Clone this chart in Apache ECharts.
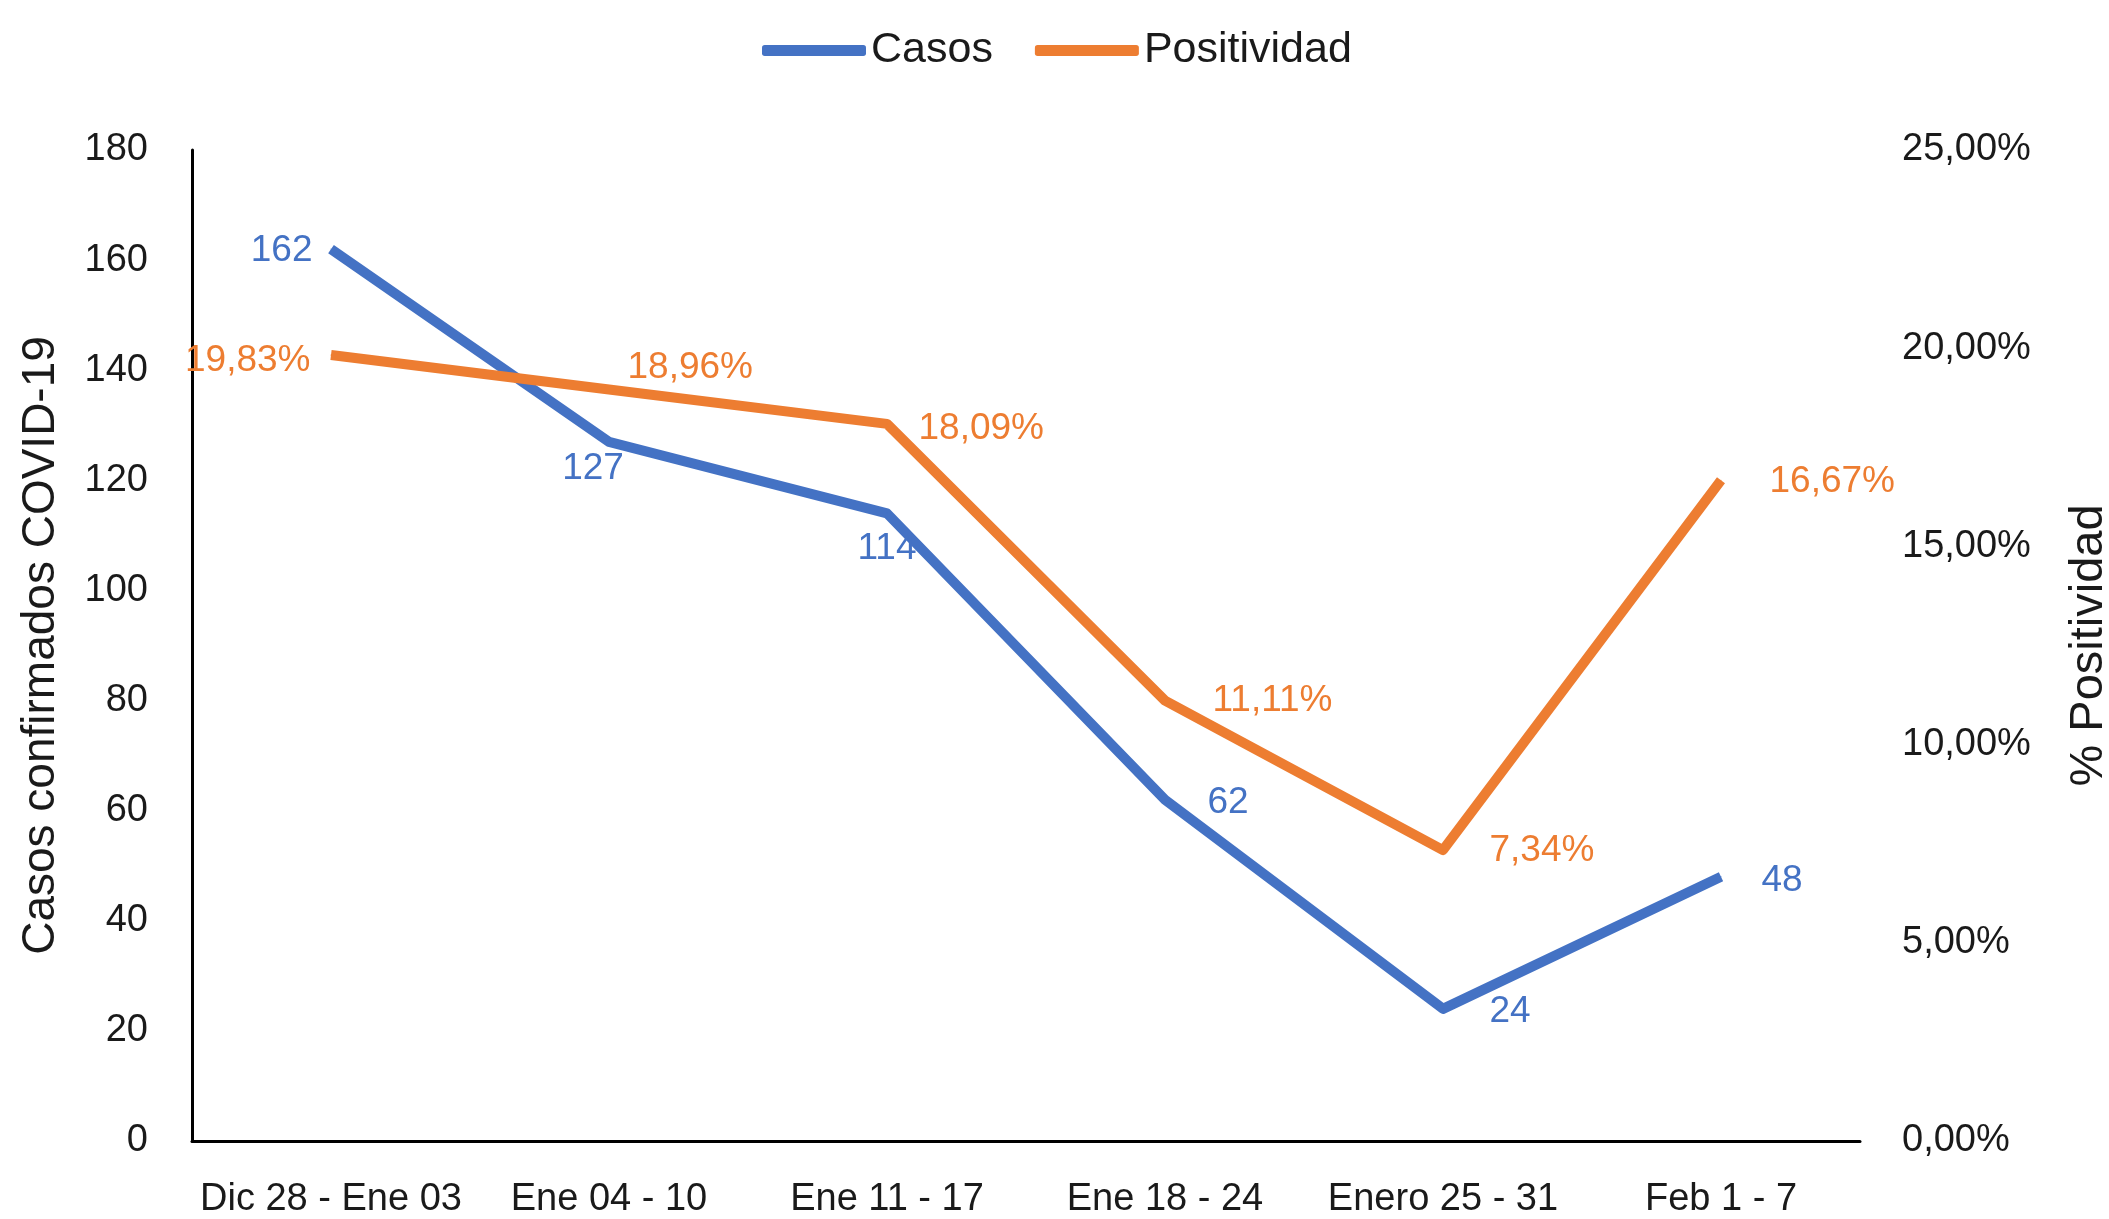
<!DOCTYPE html>
<html>
<head>
<meta charset="utf-8">
<script src="https://cdn.jsdelivr.net/npm/echarts@6/dist/echarts.min.js"></script>
<style>
html,body{margin:0;padding:0;background:#fff;}
#chart{width:2109px;height:1219px;}
</style>
</head>
<body>
<div id="chart"></div>
<script>
const categories = ["Dic 28 - Ene 03", "Ene 04 - 10", "Ene 11 - 17", "Ene 18 - 24", "Enero 25 - 31", "Feb 1 - 7"];
const casos = [162, 127, 114, 62, 24, 48];
const positividad = [19.83, 18.96, 18.09, 11.11, 7.34, 16.67];
const leftTicks = { min: 0, max: 180, interval: 20 };
const rightTicks = { min: 0, max: 25, interval: 5 };

const BLUE = '#4472C4', ORANGE = '#ED7D31', TEXT = '#1a1a1a';
const FONT = '"Liberation Sans", Arial, sans-serif';

const casosLabelPos = [
  {position: 'left', distance: 18, offset: [0, 2]},
  {position: 'bottom', distance: 8, offset: [-16, 0]},
  {position: 'bottom', distance: 16, offset: [0, 0]},
  {position: 'right', distance: 42, offset: [0, 3]},
  {position: 'right', distance: 46, offset: [0, 3]},
  {position: 'right', distance: 40, offset: [0, 4]}
];
const posLabelPos = [
  {position: 'left', distance: 20, offset: [0, 6]},
  {position: 'right', distance: 18, offset: [0, -22]},
  {position: 'right', distance: 31, offset: [0, 5]},
  {position: 'right', distance: 47, offset: [0, 0]},
  {position: 'right', distance: 46, offset: [0, 1]},
  {position: 'right', distance: 48, offset: [0, 2]}
];
const fmtPct = v => v.toFixed(2).replace('.', ',') + '%';

const chart = echarts.init(document.getElementById('chart'), null, {renderer: 'canvas'});
chart.setOption({
  animation: false,
  backgroundColor: '#fff',
  legend: {
    top: 24,
    left: 757,
    itemWidth: 104,
    itemHeight: 11,
    itemGap: 42,
    icon: 'roundRect',
    textStyle: {fontFamily: FONT, fontSize: 43, color: TEXT},
    data: ['Casos', 'Positividad']
  },
  grid: {left: 192, right: 249, top: 150, bottom: 78, containLabel: false, outerBoundsMode: 'none'},
  xAxis: {
    type: 'category',
    data: categories,
    boundaryGap: true,
    axisLine: {show: true, lineStyle: {color: '#000', width: 3}},
    axisTick: {show: false},
    axisLabel: {fontFamily: FONT, fontSize: 38, color: TEXT, margin: 40, interval: 0},
    splitLine: {show: false}
  },
  yAxis: [
    {
      type: 'value',
      min: leftTicks.min, max: leftTicks.max, interval: leftTicks.interval,
      position: 'left',
      name: 'Casos confirmados COVID-19',
      nameLocation: 'middle',
      nameGap: 128,
      nameTextStyle: {fontFamily: FONT, fontSize: 46, color: TEXT},
      axisLine: {show: true, lineStyle: {color: '#000', width: 3}},
      axisTick: {show: false},
      axisLabel: {fontFamily: FONT, fontSize: 38, color: TEXT, margin: 44},
      splitLine: {show: false}
    },
    {
      type: 'value',
      min: rightTicks.min, max: rightTicks.max, interval: rightTicks.interval,
      position: 'right',
      name: '% Positividad',
      nameLocation: 'middle',
      nameGap: 206,
      nameRotate: 90,
      nameTextStyle: {fontFamily: FONT, fontSize: 47, color: TEXT},
      axisLine: {show: false},
      axisTick: {show: false},
      axisLabel: {fontFamily: FONT, fontSize: 38, color: TEXT, margin: 42, formatter: fmtPct},
      splitLine: {show: false}
    }
  ],
  series: [
    {
      name: 'Casos',
      type: 'line',
      yAxisIndex: 0,
      color: BLUE,
      symbol: 'circle',
      symbolSize: 1,
      showSymbol: true,
      lineStyle: {color: BLUE, width: 10, join: 'round'},
      itemStyle: {color: BLUE},
      label: {show: true, fontFamily: FONT, fontSize: 37, color: BLUE},
      data: casos.map((v, i) => ({value: v, label: casosLabelPos[i]}))
    },
    {
      name: 'Positividad',
      type: 'line',
      yAxisIndex: 1,
      color: ORANGE,
      symbol: 'circle',
      symbolSize: 1,
      showSymbol: true,
      lineStyle: {color: ORANGE, width: 10, join: 'round'},
      itemStyle: {color: ORANGE},
      label: {show: true, fontFamily: FONT, fontSize: 37, color: ORANGE, formatter: p => fmtPct(p.value)},
      data: positividad.map((v, i) => ({value: v, label: posLabelPos[i]}))
    }
  ]
});
</script>
</body>
</html>
